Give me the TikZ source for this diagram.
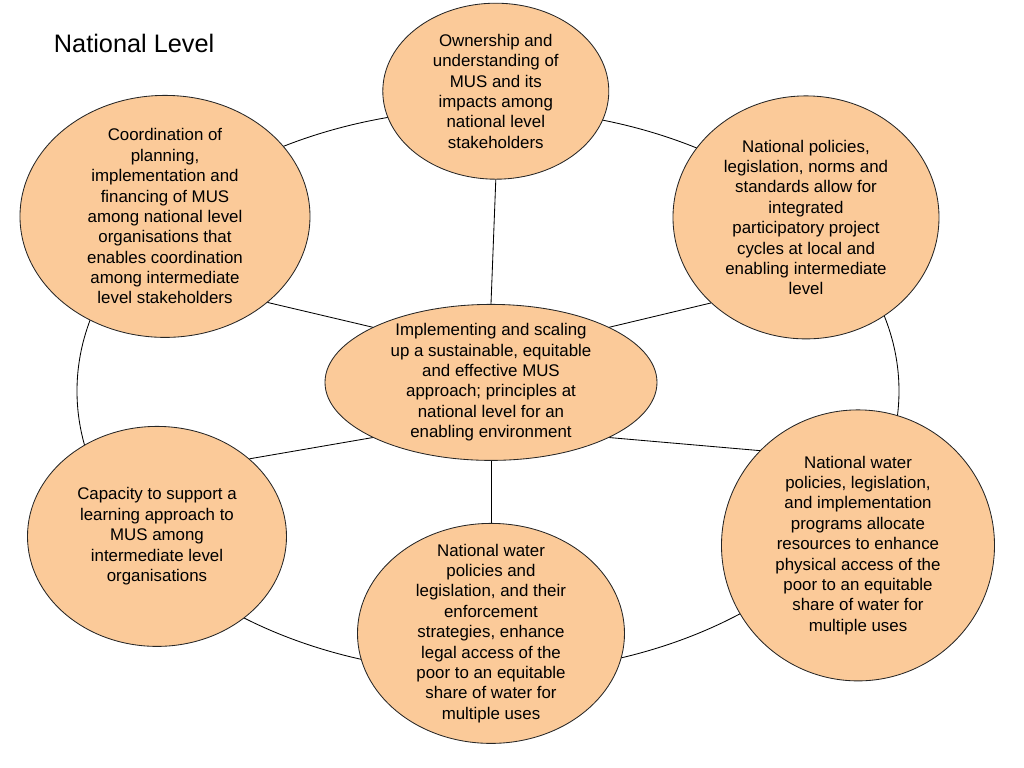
\documentclass[tikz,border=0pt]{standalone}
\usepackage{fontspec}
\setmainfont{Liberation Sans}
\usetikzlibrary{shapes.geometric,positioning}
\definecolor{peach}{RGB}{251,202,153}

\begin{document}
\begin{tikzpicture}[node distance=4cm,on grid,
		goal/.style={ellipse,draw=black!85,line width=0.6pt,fill=peach,inner sep=-10pt,align=center,font=\fontsize{12}{14.5}\selectfont},
		every edge/.style={draw,line width=0.6pt}]
		\useasboundingbox (-12.275,-9.7) rectangle (13.325,9.5);
		\coordinate (ringc) at (-0.075,-0.275);
		\draw[line width=0.6pt] (ringc) ellipse [x radius=10.275cm, y radius=7.05cm];
		\node[goal,minimum width=8.3cm,minimum height=3.9cm] (mid) at (0,-0.06) {Implementing and scaling\\up a sustainable, equitable\\and effective MUS\\approach; principles at\\national level for an\\enabling environment};
		\node[goal,minimum width=5.65cm,minimum height=4.4cm] (top) [above right=7.28cm and 0.12cm of mid] {Ownership and\\understanding of\\MUS and its\\impacts among\\national level\\stakeholders};
		\node[goal,minimum width=7.25cm,minimum height=6.05cm] (lt) [above left=4.15cm and 8.15cm of mid] {Coordination of\\planning,\\implementation and\\financing of MUS\\among national level\\organisations that\\enables coordination\\among intermediate\\level stakeholders};
		\node[goal,minimum width=6.65cm,minimum height=6.075cm] (rt) [above right=4.125cm and 7.875cm of mid] {National policies,\\legislation, norms and\\standards allow for\\integrated\\participatory project\\cycles at local and\\enabling intermediate\\level};
		\node[goal,minimum width=6.475cm,minimum height=5.5cm] (lb) [below left=3.85cm and 8.35cm of mid] {Capacity to support a\\learning approach to\\MUS among\\intermediate level\\organisations};
		\node[goal,minimum width=6.675cm,minimum height=5.5cm] (bot) [below=6.275cm of mid] {National water\\policies and\\legislation, and their\\enforcement\\strategies, enhance\\legal access of the\\poor to an equitable\\share of water for\\multiple uses};
		\node[goal,minimum width=6.825cm,minimum height=6.775cm] (rb) [below right=4.075cm and 9.175cm of mid] {National water\\policies, legislation,\\and implementation\\programs allocate\\resources to enhance\\physical access of the\\poor to an equitable\\share of water for\\multiple uses};
		\node[anchor=base west,font=\fontsize{18}{21}\selectfont] (title) at (-11.05,8.175) {National Level};
		\path
		(top.south) edge (mid.north)
		(lt.-40) edge (mid.155)
		(rt.-138) edge (mid.25)
		(lb.40) edge (mid.205)
		(mid.south) edge (bot.north)
		(mid.-25) edge (rb.136);
\end{tikzpicture}
\end{document}
